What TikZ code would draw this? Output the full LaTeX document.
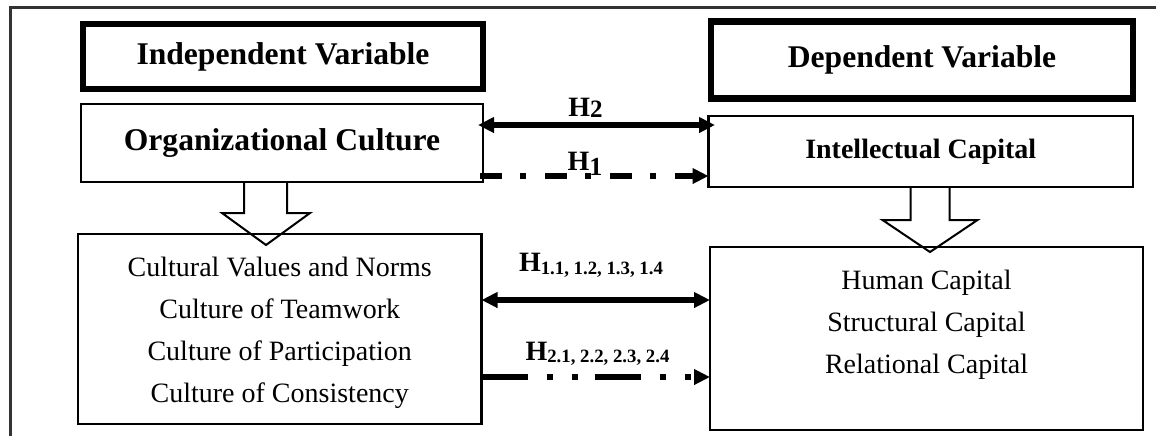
\documentclass[tikz,border=0pt]{standalone}
\usepackage{fontspec}
\setmainfont{Liberation Serif}
\usetikzlibrary{arrows.meta,calc}

\newcommand{\Hsub}[3]{H\raisebox{#1}{\fontsize{#2}{#2}\selectfont #3}}

\begin{document}
\begin{tikzpicture}[x=0.5pt, y=-0.5pt, outer sep=0pt,
  var box/.style={draw, line width=3.2pt, inner sep=0pt, font=\fontsize{15.8}{18}\selectfont\bfseries},
  main box/.style={draw, line width=1.2pt, inner sep=0pt},
  list text/.style={align=center, inner sep=0pt, font=\fontsize{14}{21}\selectfont},
  hyp/.style={anchor=base, inner sep=0pt, font=\fontsize{14}{16}\selectfont\bfseries},
  link/.style={line width=2.6pt, -{Triangle[length=8pt,width=7.5pt]}},
  both/.style={line width=2.6pt, {Triangle[length=8pt,width=7.5pt]}-{Triangle[length=8pt,width=7.5pt]}},
  hollow arrow/.style={draw, line width=1pt, line join=miter}]
\useasboundingbox (0,0) rectangle (1156,436);
\draw[line width=1.5pt, black!80] (10,436) |- (1156,7);
\begin{scope}
\node[var box, minimum width=200pt, minimum height=32.5pt] (indep) at (283,56.5) {Independent Variable};
\node[var box, minimum width=211pt, minimum height=38.5pt] (dep) at (922,60) {Dependent Variable};
\node[main box, minimum width=201pt, minimum height=39pt, font=\fontsize{15.8}{18}\selectfont\bfseries] (org) at (282,143) {Organizational Culture};
\node[main box, minimum width=212.25pt, minimum height=35.5pt, font=\fontsize{14}{16}\selectfont\bfseries] (intel) at (920.75,151.5) {Intellectual Capital};
\node[main box, minimum width=201.75pt, minimum height=95pt] (lowL) at (279.75,329) {};
\node[main box, minimum width=216.5pt, minimum height=91.5pt] (lowR) at (926.5,338.5) {};
\node[list text] (values) at (279.75,332.4) {Cultural Values and Norms\\Culture of Teamwork\\Culture of Participation\\Culture of Consistency};
\node[list text] (capitals) at (926.5,325) {Human Capital\\Structural Capital\\Relational Capital};
\end{scope}
\draw[hollow arrow] ($(org.south)+(-38,0)$) -- ++(0,31) -- ++(-22,0) -- ++(44,32) -- ++(44,-32) -- ++(-23,0) -- ++(0,-31);
\draw[hollow arrow] ($(intel.south)+(-10.25,0)$) -- ++(0,33) -- ++(-28,0) -- ++(47.5,32) -- ++(47.5,-32) -- ++(-28,0) -- ++(0,-33);
\begin{scope}
\draw[both, shorten <=-2.5pt, shorten >=-3.25pt] ([yshift=9pt]org.east) -- ([yshift=9pt]org.east -| intel.west);
\draw[link, dash pattern=on 11pt off 9pt on 3pt off 9.5pt, shorten <=-1.5pt] ([yshift=-16.5pt]org.east) -- ([yshift=-16.5pt]org.east -| intel.west);
\draw[both] ([yshift=14.5pt]lowL.east) -- ([yshift=14.5pt]lowL.east -| lowR.west);
\draw[link, dash pattern=on 23pt off 9.5pt on 3pt off 9.5pt on 3pt off 8.5pt] ([yshift=-24pt]lowL.east) -- ([yshift=-24pt]lowL.east -| lowR.west);
\end{scope}
\node[hyp] (h2) at (585.5,116) {\Hsub{-0.5pt}{12.5}{2}};
\node[hyp] (h1) at (585,170) {\Hsub{-2.5pt}{13}{1}};
\node[hyp] (h11) at (591,271) {\Hsub{-1.7pt}{9.4}{1.1, 1.2, 1.3, 1.4}};
\node[hyp] (h21) at (597.5,360) {\Hsub{-1.35pt}{9.4}{2.1, 2.2, 2.3, 2.4}};
\end{tikzpicture}
\end{document}
